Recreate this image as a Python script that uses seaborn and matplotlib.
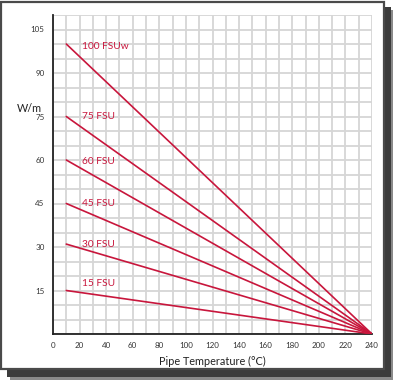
import pandas as pd
import matplotlib.pyplot as plt
import seaborn as sns
from matplotlib.patches import Rectangle
from matplotlib.ticker import MultipleLocator

# -------------------------
# Data
# -------------------------
series_names = ["100 FSUw", "75 FSU", "60 FSU", "45 FSU", "30 FSU", "15 FSU"]
start_temp = [10, 10, 10, 10, 10, 10]
end_temp = [240, 240, 240, 240, 240, 240]
start_output = [100, 75, 60, 45, 31, 15]
end_output = [0, 0, 0, 0, 0, 0]
label_temp = [22, 22, 22, 22, 22, 22]
label_output = [99, 75, 59.5, 45, 31, 17.5]

x_ticks = list(range(0, 241, 20))
y_ticks = [15, 30, 45, 60, 75, 90, 105]

rows = []
for i, name in enumerate(series_names):
    rows.append({"series": name, "temp": start_temp[i], "output": start_output[i]})
    rows.append({"series": name, "temp": end_temp[i], "output": end_output[i]})
df = pd.DataFrame(rows)

red = "#c8163c"

# -------------------------
# Figure
# -------------------------
sns.set_style("white")
plt.rcParams['font.family'] = ['Lato', 'DejaVu Sans']

fig = plt.figure(figsize=(3.93, 3.81), dpi=100)
fig.patch.set_facecolor("white")

W, H = 393.0, 381.0
def box(x0, y0, x1, y1, **kw):
    # pixel box (top-left origin) -> figure rectangle
    return Rectangle((x0 / W, 1 - y1 / H), (x1 - x0) / W, (y1 - y0) / H,
                     transform=fig.transFigure, **kw)

fig.patches.append(box(10, 10, 393, 380, facecolor="#8a8a8a", edgecolor="none", zorder=-3))
fig.patches.append(box(7, 7, 391, 377, facecolor="#3c3c3c", edgecolor="none", zorder=-2))
fig.patches.append(box(1, 2, 384, 369, facecolor="white", edgecolor="#4a4a4a",
                       linewidth=1.6, zorder=-1))

ax = fig.add_axes([53 / W, 1 - 334 / H, (372 - 53) / W, (334 - 15) / H])
ax.set_zorder(5)
ax.set_facecolor("none")

sns.lineplot(data=df, x="temp", y="output", hue="series",
             palette=[red] * len(series_names), legend=False,
             linewidth=1.2, ax=ax, zorder=3)

for i, name in enumerate(series_names):
    ax.text(label_temp[i], label_output[i], name, color=red, fontsize=7.3,
            va="center", ha="left", zorder=4)

ax.set_xlim(0, 240)
ax.set_ylim(0, 110)
ax.set_xticks(x_ticks)
ax.set_yticks(y_ticks)
ax.xaxis.set_minor_locator(MultipleLocator(10))
ax.yaxis.set_minor_locator(MultipleLocator(5))
ax.grid(which="both", color="#d6d6d6", linewidth=1.3, zorder=0)
ax.set_axisbelow(True)
ax.tick_params(which="both", length=0, labelsize=5.8, colors="#333333", pad=6)

for s in ["top", "right"]:
    ax.spines[s].set_visible(False)
for s in ["left", "bottom"]:
    ax.spines[s].set_color("#222222")
    ax.spines[s].set_linewidth(1.3)

ax.set_xlabel("Pipe Temperature (°C)", fontsize=7.8, color="#222222", labelpad=5)
ax.set_ylabel("")
fig.text(29 / W, 1 - 108 / H, "W/m", fontsize=7.8, color="#222222",
         ha="center", va="center")

fig.savefig("out.png", dpi=100)
